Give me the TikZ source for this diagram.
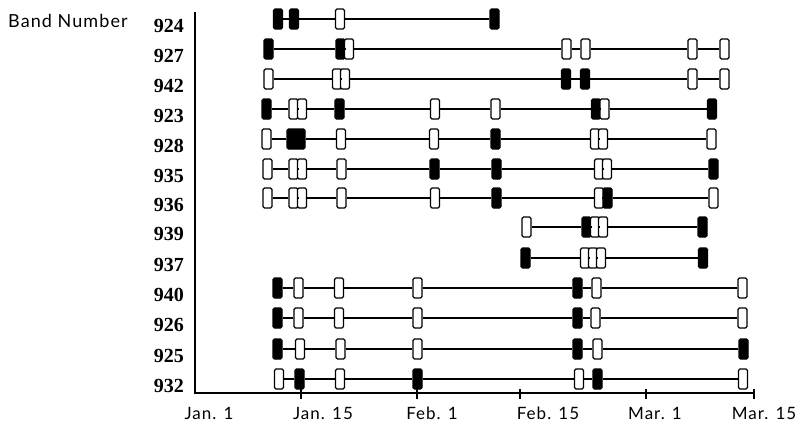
\documentclass[tikz,border=0pt]{standalone}
\usepackage{fontspec}
\setmainfont{Liberation Serif}
\newfontfamily\sansf[LetterSpace=6]{Lato}
\tikzset{
  x=1pt, y=-1pt,
  bx/.style={draw=black, line width=1.3pt, rounded corners=1.5pt, inner sep=0pt,
             minimum height=20pt, minimum width=9pt},
  boxo/.style={bx, fill=white},
  boxf/.style={bx, fill=black},
  boxF/.style={bx, fill=black, minimum width=18pt},
  link/.style={line width=1.3pt},
  axis/.style={line width=1.5pt},
  rowlab/.style={font=\fontsize{20}{20}\selectfont\bfseries, anchor=base east, inner sep=0pt},
  datelab/.style={font=\sansf\fontsize{17}{17}\selectfont, anchor=base, inner sep=0pt},
}
\newcommand\bandrow[4]{%
  \node[rowlab] (lab#1) at (184,#2+13) {#1};
  \foreach \x/\t [count=\i, remember=\i as \last (initially 0)] in {#3} {
    \node[box\t] (r#1-\i) at (\x,#2) {};
    \ifnum\i>1 \draw[link] (r#1-\last.east) -- (r#1-\i.west);\fi
  }%
}
\begin{document}
\begin{tikzpicture}
\useasboundingbox (0,0) rectangle (802,426);
% axes
\coordinate (o) at (195,393);
\coordinate (top) at (195,12);
\coordinate (xend) at (754,393);
\draw[axis] (top) -- (o) -- (xend);
\foreach \x in {301,417,520,646,754} {
  \coordinate (t\x a) at (\x,389);
  \coordinate (t\x b) at (\x,399);
  \draw[line width=1.3pt] (t\x a) -- (t\x b);
}
\node[font=\sansf\fontsize{18}{18}\selectfont, anchor=base west, inner sep=0pt] (title) at (8,27) {Band Number};
\node[datelab] (d1) at (209,419) {Jan. 1};
\node[datelab] (d2) at (323,419) {Jan. 15};
\node[datelab] (d3) at (432,419) {Feb. 1};
\node[datelab] (d4) at (548,419) {Feb. 15};
\node[datelab] (d5) at (655,419) {Mar. 1};
\node[datelab] (d6) at (764,419) {Mar. 15};
% rows
\bandrow{924}{19}{278/f,294/f,340/o,494.5/f}{}
\bandrow{927}{49}{268.5/f,340.5/f,349/o,566.5/o,585.5/o,692.5/o,724.5/o}{}
\bandrow{942}{79}{268.5/o,337/o,345/o,566/f,585/f,692.5/o,724.5/o}{}
\bandrow{923}{109}{266.5/f,293.5/o,302/o,339.5/f,435/o,495.5/o,596/f,604.5/o,712/f}{}
\bandrow{928}{139}{266.5/o,296/F,341/o,434/o,495.5/f,595/o,603/o,711.5/o}{}
\bandrow{935}{169}{267.5/o,293.5/o,302/o,341.5/o,434.5/f,496.5/f,599/o,607/o,713.5/f}{}
\bandrow{936}{198}{267.5/o,293.5/o,302/o,341.5/o,435/o,496.5/f,599/o,607.5/f,713.5/o}{}
\bandrow{939}{227}{526.5/o,586.5/f,595/o,603/o,702.5/f}{}
\bandrow{937}{258}{525.5/f,585/o,593/o,601/o,703/f}{}
\bandrow{940}{288}{277.5/f,298.5/o,339/o,417.5/o,577.5/f,596.5/o,742.5/o}{}
\bandrow{926}{318}{277.5/f,298.5/o,339/o,417.5/o,577.5/f,595.5/o,742.5/o}{}
\bandrow{925}{349}{277.5/f,300/o,340.5/o,417.5/o,577.5/f,597.5/o,743.5/f}{}
\bandrow{932}{379}{279/o,299.5/f,340/o,417.5/f,579/o,597.5/f,743/o}{}
\end{tikzpicture}
\end{document}
